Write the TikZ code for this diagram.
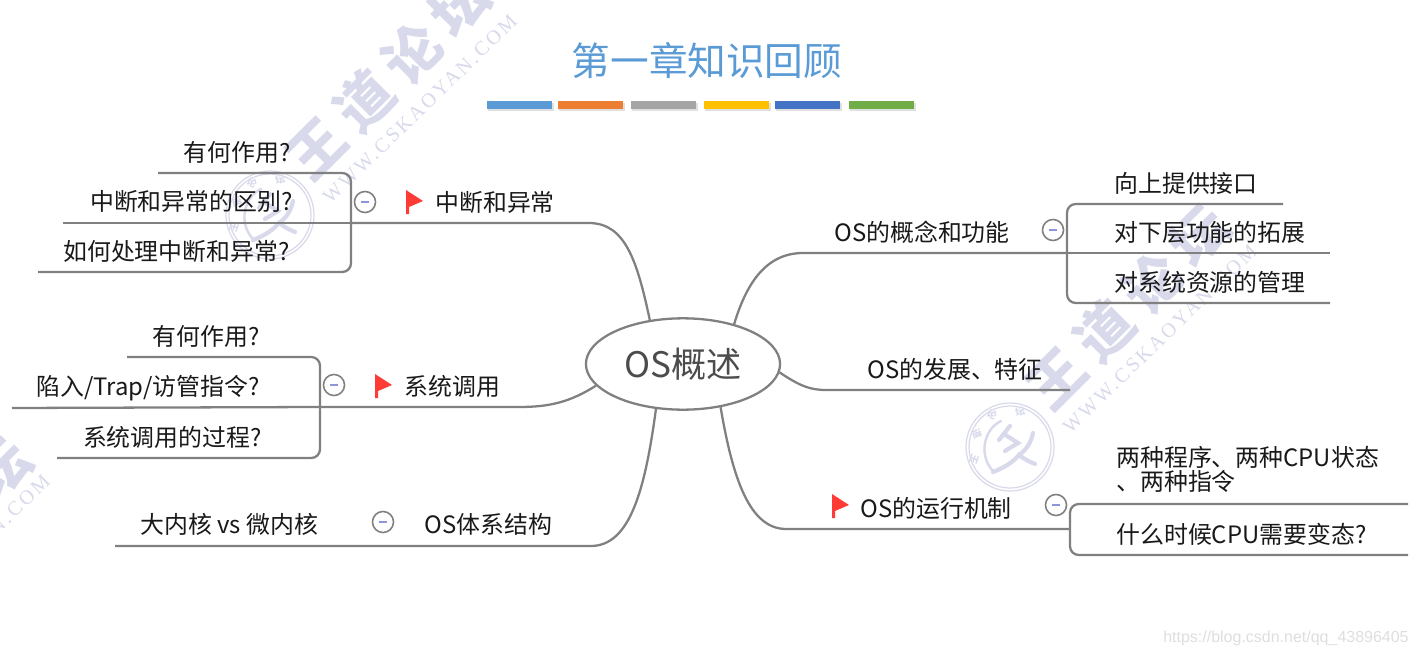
\documentclass[tikz,border=0pt]{standalone}
\usepackage{fontspec}
\setmainfont{Noto Sans CJK SC}
\newfontfamily\urlfont{Liberation Sans}
\newfontfamily\wwwfont[LetterSpace=13]{Liberation Serif}
\newfontfamily\markfont[LetterSpace=20]{Noto Sans CJK SC}
\usetikzlibrary{calc,shapes.geometric}
\definecolor{BranchClr}{rgb}{0.5,0.5,0.5}
\definecolor{TitleClr}{HTML}{5B9BD5}
\definecolor{MarkClr}{HTML}{D8DAEB}
\definecolor{FlagClr}{HTML}{FF3B36}
\definecolor{MinusClr}{HTML}{8C96D8}
\tikzset{
  branch/.style={line width=1.3pt,color=BranchClr,rounded corners=5pt},
  topic/.style={inner sep=0pt,yshift=-.2pt,font=\fontsize{13.6}{16}\selectfont,text=black!90},
  fold/.style={circle,draw=BranchClr,line width=.9pt,fill=white,minimum size=12pt,inner sep=0pt},
  sealmark/.style={draw=MarkClr,line width=.7pt},
  sealicon/.style={draw=MarkClr,line width=2.4pt,line cap=round},
  sealtext/.style={text=MarkClr,inner sep=0pt,font=\fontsize{5.5}{6}\selectfont\bfseries},
  bigmark/.style={text=MarkClr,inner sep=0pt,rotate=45,font=\markfont\fontsize{32}{32}\selectfont\bfseries},
  smallmark/.style={text=MarkClr,inner sep=0pt,rotate=44,font=\wwwfont\fontsize{11.5}{12}\selectfont}
}
\newcommand{\FlagAt}[2]{
  \fill[FlagClr] (#1,#2) -- (#1+17,#2+11) -- (#1+3,#2+17) -- (#1+3,#2+24) -- (#1,#2+24) -- cycle;
}
\newcommand{\SealAt}[3]{
  \draw[sealmark] (#1,#2) circle (44);
  \draw[sealmark] (#1,#2) circle (41);
  \draw[sealicon,line width=1.4pt] (#1-9,#2-26) .. controls (#1-26,#2-18) and (#1-32,#2+8) .. (#1-17,#2+24);
  \draw[sealicon] (#1-17,#2+25) .. controls (#1-4,#2+20) and (#1+4,#2+14) .. (#1+9,#2+8) .. controls (#1+14,#2+12) and (#1+20,#2+15) .. (#1+25,#2+17);
  \draw[sealicon] (#1+23,#2-14) .. controls (#1+21,#2-4) and (#1+16,#2+3) .. (#1+9,#2+8);
  \draw[sealicon] (#1-11,#2-7) -- (#1,#2-21);
  \draw[sealicon] (#1-6,#2-13) -- (#1+8,#2-4) -- (#1-5,#2+4);
  \node[sealtext,rotate=-110] (#3wang) at (#1-36,#2+12) {王};
  \node[sealtext,rotate=-70] (#3dao) at (#1-33,#2-13) {道};
  \node[sealtext,rotate=-30] (#3lun) at (#1-18,#2-32) {论};
  \node[sealtext,rotate=15] (#3tan) at (#1+10,#2-35) {坛};
}

\begin{document}
\begin{tikzpicture}[x=.02cm,y=-.02cm]
\useasboundingbox (0,0) rectangle (1418,656);
\clip (0,0) rectangle (1418,656);

\SealAt{270}{215}{sealA}
\SealAt{1010}{447}{sealB}
\node[bigmark] (mkA) at (388,77) {王道论坛};
\node[smallmark] (urlA) at (420,109) {WWW.CSKAOYAN.COM};
\node[bigmark] (mkB) at (1128,307) {王道论坛};
\node[smallmark] (urlB) at (1160,339) {WWW.CSKAOYAN.COM};
\node[bigmark] (mkC) at (-70,540) {王道论坛};
\node[smallmark] (urlC) at (-47,569) {WWW.CSKAOYAN.COM};

\node[text=TitleClr,inner sep=0pt,font=\fontsize{22}{26}\selectfont] (title) at (707,61) {第一章知识回顾};

\foreach \bx/\bc in {519.5/5B9BD5,590.5/ED7D31,663.5/A5A5A5,736.5/FFC000,807.5/4472C4,881.5/70AD47}{
  \definecolor{BarClr}{HTML}{\bc}
  \fill[black!12] (\bx-32,103) rectangle (\bx+34,111);
  \fill[BarClr] (\bx-32.5,101) rectangle (\bx+32.5,109);
}

\node[ellipse,draw=BranchClr,line width=1.3pt,minimum width=110.5pt,minimum height=52pt,inner sep=0pt,
  text=black!70,font=\fontsize{20}{22}\selectfont] (os) at (683,364) {OS概述};

\coordinate (endA) at (1067,253);
\coordinate (endB) at (1070,390);
\coordinate (endC) at (1070,529);
\coordinate (endD) at (351,223);
\coordinate (endE) at (320,407);
\coordinate (endF) at (115,546);

\draw[branch] (os.38) .. controls (746,285) and (765,253) .. (812,253) -- (endA);
\draw[branch] (os.-5) .. controls (800,386) and (810,390) .. (835,390) -- (endB);
\draw[branch] (os.-49) .. controls (733,480) and (750,529) .. (795,529) -- (endC);
\draw[branch] (os.127) .. controls (637,260) and (625,223) .. (580,223) -- (endD);
\draw[branch] (os.194) .. controls (570,402) and (550,407) .. (510,407) -- (endE);
\draw[branch] (os.239) .. controls (645,490) and (630,546) .. (582,546) -- (endF);

\coordinate (tA1) at (1283,204);
\coordinate (tA2) at (1330,253);
\coordinate (tA3) at (1330,303);
\coordinate (tC1) at (1408,504);
\coordinate (tC2) at (1408,555);
\coordinate (tD1) at (158,173);
\coordinate (tD2) at (63,223);
\coordinate (tD3) at (38,272);
\coordinate (tE1) at (127,357);
\coordinate (tE2) at (12,408);
\coordinate (tE3) at (57,458);

\draw[branch] (tA1) -| (endA) |- (tA3);
\draw[branch] (endA) -- (tA2);
\draw[branch] (tC1) -| (endC) |- (tC2);
\draw[branch] (tD1) -| (endD) |- (tD3);
\draw[branch] (endD) -- (tD2);
\draw[branch] (tE1) -| (endE) |- (tE3);
\draw[branch] (endE) -- (tE2);

\node[fold] (foldA) at (1053,230) {\textcolor{MinusClr}{\rule[0pt]{5pt}{1pt}}};
\node[fold] (foldC) at (1056,505) {\textcolor{MinusClr}{\rule[0pt]{5pt}{1pt}}};
\node[fold] (foldD) at (365,202) {\textcolor{MinusClr}{\rule[0pt]{5pt}{1pt}}};
\node[fold] (foldE) at (334,385) {\textcolor{MinusClr}{\rule[0pt]{5pt}{1pt}}};
\node[fold] (foldF) at (383,522) {\textcolor{MinusClr}{\rule[0pt]{5pt}{1pt}}};

\FlagAt{406}{190}
\FlagAt{375}{374}
\FlagAt{832}{494}

\node[topic,anchor=west] (osA) at (834,232) {OS的概念和功能};
\node[topic,anchor=west] (osA1) at (1114,183) {向上提供接口};
\node[topic,anchor=west] (osA2) at (1114,232) {对下层功能的拓展};
\node[topic,anchor=west] (osA3) at (1114,282) {对系统资源的管理};
\node[topic,anchor=west] (osB) at (867,369) {OS的发展、特征};
\node[topic,anchor=west] (osC) at (860,508) {OS的运行机制};
\node[topic,anchor=west,align=left] (osC1) at (1116,469) {两种程序、两种CPU状态\\[-2pt]、两种指令};
\node[topic,anchor=west] (osC2) at (1116,534) {什么时候CPU需要变态?};

\node[topic,anchor=west] (osD) at (435,202) {中断和异常};
\node[topic,anchor=east] (osD1) at (291,152) {有何作用?};
\node[topic,anchor=east] (osD2) at (293,201) {中断和异常的区别?};
\node[topic,anchor=east] (osD3) at (290,251) {如何处理中断和异常?};
\node[topic,anchor=west] (osE) at (404,386) {系统调用};
\node[topic,anchor=east] (osE1) at (260,336) {有何作用?};
\node[topic,anchor=east] (osE2) at (260,388) {陷入/Trap/访管指令?};
\node[topic,anchor=east] (osE3) at (262,437) {系统调用的过程?};
\node[topic,anchor=west] (osF) at (424,524) {OS体系结构};
\node[topic,anchor=west] (osF1) at (140,524) {大内核\ vs\ 微内核};

\node[anchor=east,inner sep=0pt,text=black!13,font=\urlfont\fontsize{9.1}{11}\selectfont] (blog) at (1409,638) {https://blog.csdn.net/qq\_43896405};

\end{tikzpicture}
\end{document}
